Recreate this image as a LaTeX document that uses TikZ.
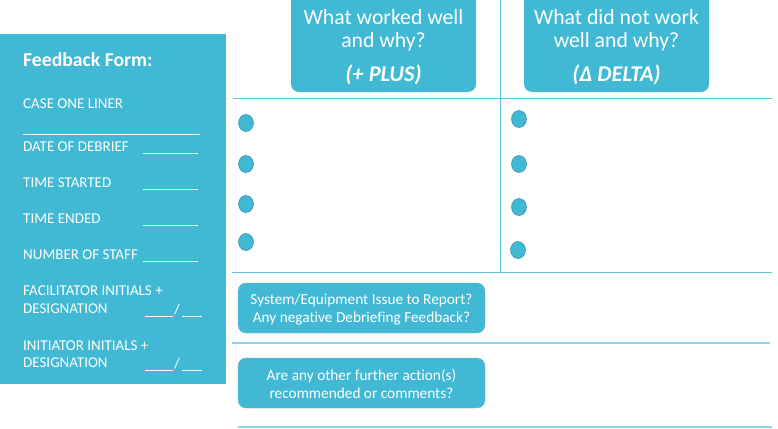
\documentclass[tikz,border=0pt]{standalone}
\usepackage{fontspec}
\setmainfont{Carlito}[Ligatures=NoCommon]
\usetikzlibrary{shapes.geometric}
\definecolor{teal}{HTML}{41B8D4}
\definecolor{tealdark}{HTML}{2F8EA6}
\definecolor{rule}{HTML}{5CC6DE}
\definecolor{rulelight}{HTML}{8AD6E8}
\begin{document}
\begin{tikzpicture}[x=1pt,y=-1pt,
  panel/.style={fill=teal,draw=none},
  hbox/.style={fill=teal,draw=none,rounded corners=8pt},
  qbox/.style={fill=teal,draw=tealdark!60,line width=0.4pt,rounded corners=8pt},
  htext/.style={text=white,font=\fontsize{21.7}{26}\selectfont,inner sep=0pt},
  hbold/.style={text=white,font=\fontsize{22.5}{26}\selectfont\bfseries\itshape,inner sep=0pt},
  ltext/.style={text=white,font=\fontsize{15}{18}\selectfont,inner sep=0pt,anchor=west},
  qtext/.style={text=white,font=\fontsize{15.3}{18}\selectfont,inner sep=0pt,align=center},
  blank/.style={draw=white,line width=0.8pt},
  sep/.style={draw=rule,line width=1pt},
  seplight/.style={draw=rulelight,line width=1.4pt},
  dot/.style={ellipse,fill=teal,draw=tealdark,line width=0.5pt,minimum width=15pt,minimum height=17pt,inner sep=0pt}
]
\useasboundingbox (0,0) rectangle (778,428);
% left panel
\fill[panel] (0,34) rectangle (226,384);
\node[ltext,font=\fontsize{19.7}{23}\selectfont\bfseries] (title) at (23,60) {Feedback Form:};
\node[ltext] (case) at (23,104) {CASE ONE LINER};
\draw[blank] (23,134) -- (200,134);
\node[ltext] (date) at (23,147) {DATE OF DEBRIEF};
\draw[blank] (143,153) -- (198,153);
\node[ltext] (tstart) at (23,183) {TIME STARTED};
\draw[blank] (143,189) -- (198,189);
\node[ltext] (tend) at (23,219) {TIME ENDED};
\draw[blank] (143,225) -- (198,225);
\node[ltext] (staff) at (23,255) {NUMBER OF STAFF};
\draw[blank] (143,261) -- (198,261);
\node[ltext] (fac1) at (23,291) {FACILITATOR INITIALS +};
\node[ltext] (fac2) at (23,309) {DESIGNATION};
\draw[blank] (145,316) -- (173,316);
\node[ltext,anchor=center] (facslash) at (177,310) {/};
\draw[blank] (182,316) -- (202,316);
\node[ltext] (ini1) at (23,346) {INITIATOR INITIALS +};
\node[ltext] (ini2) at (23,363) {DESIGNATION};
\draw[blank] (145,370) -- (173,370);
\node[ltext,anchor=center] (inislash) at (177,364) {/};
\draw[blank] (182,370) -- (202,370);
% grid lines
\draw[sep] (500,0) -- (500,272);
\draw[sep] (233,98) -- (772,98);
\draw[sep] (232,272) -- (772,272);
\draw[seplight] (232,343) -- (770,343);
\draw[seplight] (238,427) -- (772,427);
% header boxes
\fill[hbox] (291,-10) rectangle (476,92);
\node[htext] (plus1) at (383.5,17) {What worked well};
\node[htext] (plus2) at (383.5,42) {and why?};
\node[hbold] (plus3) at (383.5,75) {(+ PLUS)};
\fill[hbox] (524,-10) rectangle (709,92);
\node[htext] (delta1) at (616.5,17) {What did not work};
\node[htext] (delta2) at (616.5,42) {well and why?};
\node[hbold] (delta3) at (616.5,75) {(Δ DELTA)};
% dots
\node[dot] (l1) at (246,123) {};
\node[dot] (l2) at (246,164) {};
\node[dot] (l3) at (246,204) {};
\node[dot] (l4) at (246,242) {};
\node[dot] (r1) at (519,119) {};
\node[dot] (r2) at (519,164) {};
\node[dot] (r3) at (519,207) {};
\node[dot] (r4) at (518,250) {};
% question boxes
\draw[qbox] (238,283) rectangle (485,333);
\node[qtext] (q1) at (361.5,309) {System/Equipment Issue to Report?\\Any negative Debriefing Feedback?};
\draw[qbox] (238,358) rectangle (485,408);
\node[qtext] (q2) at (361.5,384) {Are any other further action(s)\\recommended or comments?};
\end{tikzpicture}
\end{document}
